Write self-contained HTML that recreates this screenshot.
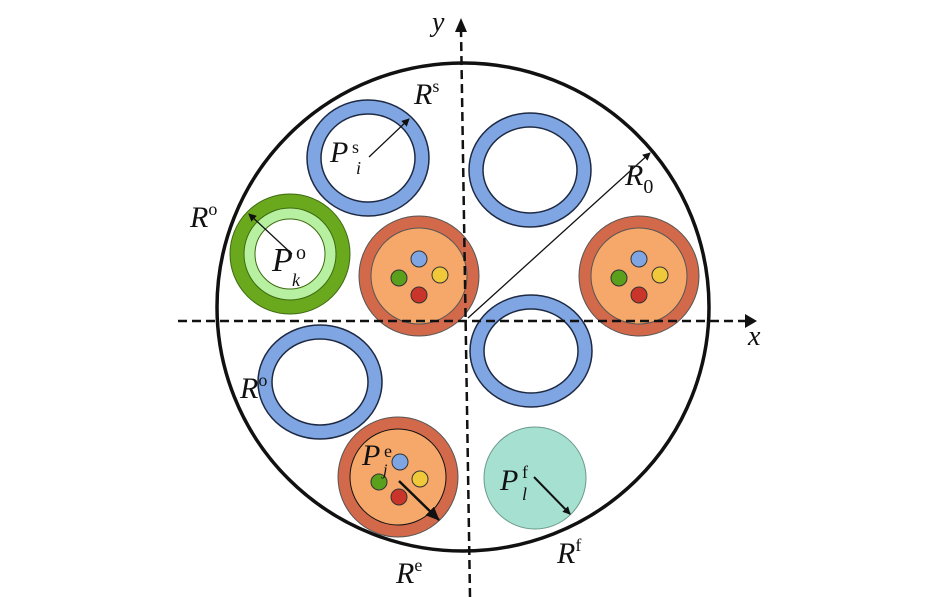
<!DOCTYPE html>
<html><head><style>body{margin:0;background:#fff}svg{display:block}text{font-family:"Liberation Serif",serif;font-style:italic;fill:#111}.n{font-style:normal}</style></head><body>
<svg width="946" height="597" viewBox="0 0 946 597" xmlns="http://www.w3.org/2000/svg">
<defs><marker id="a" markerWidth="8" markerHeight="8" refX="7" refY="4" orient="auto" markerUnits="userSpaceOnUse"><path d="M0,0L8,4L0,8z" fill="#111"/></marker>
<marker id="b" markerWidth="14" markerHeight="12" refX="13" refY="6" orient="auto" markerUnits="userSpaceOnUse"><path d="M0,0L14,6L0,12z" fill="#111"/></marker></defs>
<ellipse cx="463" cy="307" rx="246" ry="244" fill="none" stroke="#111" stroke-width="3.5"/>
<g stroke="#1e2a44" stroke-width="1.5">
<ellipse cx="368" cy="158" rx="61" ry="58" fill="#7fa6e2"/><ellipse cx="368" cy="158" rx="47" ry="44" fill="#fff"/>
<ellipse cx="530" cy="170" rx="61" ry="57" fill="#7fa6e2"/><ellipse cx="530" cy="170" rx="47" ry="43" fill="#fff"/>
<ellipse cx="531" cy="351" rx="61" ry="56" fill="#7fa6e2"/><ellipse cx="531" cy="351" rx="47" ry="42" fill="#fff"/>
<ellipse cx="320" cy="382" rx="62" ry="57" fill="#7fa6e2"/><ellipse cx="320" cy="382" rx="48" ry="43" fill="#fff"/>
</g>
<circle cx="290" cy="254" r="60" fill="#6aa81d" stroke="#3d6a10"/>
<circle cx="290" cy="254" r="46" fill="#b6f0a0" stroke="#3d6a10"/>
<circle cx="290" cy="254" r="35" fill="#fff" stroke="#3d6a10"/>
<g stroke="#555">
<circle cx="419" cy="276" r="60" fill="#d2694a"/><circle cx="419" cy="276" r="48" fill="#f5a86a"/>
<circle cx="639" cy="276" r="60" fill="#d2694a"/><circle cx="639" cy="276" r="48" fill="#f5a86a"/>
<circle cx="398" cy="477" r="60" fill="#d2694a"/><circle cx="398" cy="477" r="48" fill="#f5a86a" stroke="#111"/>
</g>
<g stroke="#333" stroke-width="1">
<circle cx="419" cy="259" r="8" fill="#7fa6e2"/><circle cx="399" cy="278" r="8" fill="#5aa01c"/><circle cx="440" cy="275" r="8" fill="#f0c93a"/><circle cx="419" cy="295" r="8" fill="#c9352a"/>
<circle cx="639" cy="259" r="8" fill="#7fa6e2"/><circle cx="619" cy="278" r="8" fill="#5aa01c"/><circle cx="660" cy="275" r="8" fill="#f0c93a"/><circle cx="639" cy="295" r="8" fill="#c9352a"/>
<circle cx="400" cy="462" r="8" fill="#7fa6e2"/><circle cx="379" cy="482" r="8" fill="#5aa01c"/><circle cx="420" cy="479" r="8" fill="#f0c93a"/><circle cx="399" cy="497" r="8" fill="#c9352a"/>
</g>
<circle cx="535" cy="478" r="51" fill="#a6e0d0" stroke="#6a9a8c"/>
<g stroke="#111" stroke-width="2.5" stroke-dasharray="9,5" fill="none">
<line x1="178" y1="321" x2="745" y2="321"/>
<line x1="470" y1="597" x2="461" y2="30"/>
</g>
<path d="M745,314L757,321L745,328z" fill="#111"/>
<path d="M455,32L461,18L467,32z" fill="#111"/>
<g stroke="#111" stroke-width="1.3">
<line x1="468" y1="318" x2="650" y2="153" marker-end="url(#a)"/>
<line x1="369" y1="157" x2="409" y2="119" marker-end="url(#a)"/>
<line x1="292" y1="254" x2="249" y2="214" marker-end="url(#a)"/>
<line x1="534" y1="477" x2="570" y2="514" stroke-width="2" marker-end="url(#a)"/>
<line x1="399" y1="481" x2="439" y2="520" stroke-width="2.5" marker-end="url(#b)"/>
</g>
<g font-size="30">
<text x="432" y="31" font-size="28">y</text>
<text x="748" y="345" font-size="28">x</text>
<text x="414" y="104">R<tspan font-size="18" class="n" dy="-12">s</tspan></text>
<text x="625" y="185">R<tspan font-size="20" class="n" dy="8">0</tspan></text>
<text x="190" y="227">R<tspan font-size="18" class="n" dy="-12">o</tspan></text>
<text x="240" y="398">R<tspan font-size="18" class="n" dy="-12">o</tspan></text>
<text x="396" y="583">R<tspan font-size="18" class="n" dy="-12">e</tspan></text>
<text x="557" y="563">R<tspan font-size="18" class="n" dy="-12">f</tspan></text>
<text x="330" y="162">P</text><text x="352" y="153" font-size="18" class="n">s</text><text x="356" y="174" font-size="18">i</text>
<text x="272" y="271" font-size="34">P</text><text x="296" y="259" font-size="20" class="n">o</text><text x="292" y="286" font-size="18">k</text>
<text x="362" y="465">P</text><text x="384" y="457" font-size="18" class="n">e</text><text x="383" y="475" font-size="16">j</text>
<text x="500" y="490">P</text><text x="522" y="478" font-size="18" class="n">f</text><text x="522" y="500" font-size="18">l</text>
</g>
</svg>
</body></html>
